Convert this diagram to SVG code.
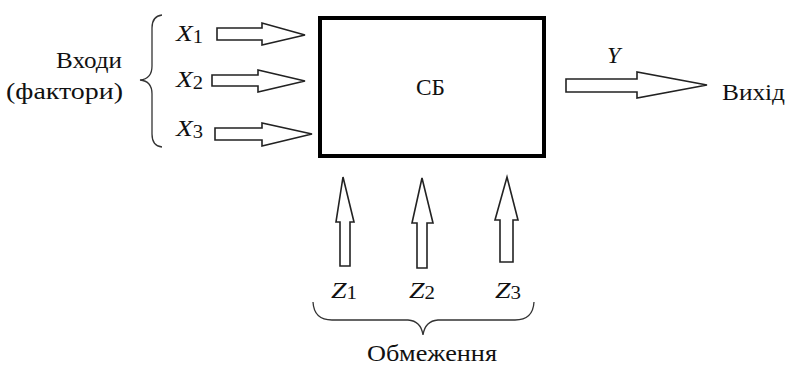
<svg xmlns="http://www.w3.org/2000/svg" width="790" height="365" viewBox="0 0 790 365">
<style>
text{font-family:"Liberation Serif","Times New Roman","DejaVu Serif",serif;font-size:24px;fill:#111}
.v{font-style:italic}
.s{font-size:18px;font-style:normal}
.arr{fill:#fff;stroke:#222;stroke-width:1.6;stroke-linejoin:miter}
.br{fill:none;stroke:#333;stroke-width:1.3}
</style>
<rect width="790" height="365" fill="#fff"/>
<g id="sb">
<rect x="320" y="18" width="224" height="138" fill="#fff" stroke="#000" stroke-width="4"/>
<text x="416" y="95" textLength="29" lengthAdjust="spacingAndGlyphs">СБ</text>
</g>
<g id="inputs">
<text x="56" y="68" textLength="66" lengthAdjust="spacingAndGlyphs">Входи</text>
<text x="6" y="99" textLength="117" lengthAdjust="spacingAndGlyphs">(фактори)</text>
<path class="br" d="M162,15 Q152,16 152,28 L152,66 Q152,79 140,80 Q152,81 152,94 L152,134 Q152,146 162,147"/>
<text class="v" x="176" y="41" textLength="27" lengthAdjust="spacingAndGlyphs">X<tspan class="s" dy="2">1</tspan></text>
<text class="v" x="176" y="87" textLength="27" lengthAdjust="spacingAndGlyphs">X<tspan class="s" dy="2">2</tspan></text>
<text class="v" x="176" y="136" textLength="27" lengthAdjust="spacingAndGlyphs">X<tspan class="s" dy="2">3</tspan></text>
</g>
<g id="output">
<text class="v" x="607" y="63">Y</text>
<text x="722" y="100" textLength="63" lengthAdjust="spacingAndGlyphs">Вихід</text>
</g>
<g id="limits">
<text class="v" x="331" y="298" textLength="26" lengthAdjust="spacingAndGlyphs">Z<tspan class="s" dy="1">1</tspan></text>
<text class="v" x="409" y="298" textLength="26" lengthAdjust="spacingAndGlyphs">Z<tspan class="s" dy="1">2</tspan></text>
<text class="v" x="495" y="298" textLength="26" lengthAdjust="spacingAndGlyphs">Z<tspan class="s" dy="1">3</tspan></text>
<path class="br" d="M313,302 Q314,320 332,320 L408,320 Q421,321 423,335 Q425,321 438,320 L515,320 Q533,320 534,302"/>
<text x="367" y="361" textLength="130" lengthAdjust="spacingAndGlyphs">Обмеження</text>
</g>
<g id="connectors">
<polygon class="arr" points="217,28 262,28 262,23 305,35 262,45 262,40 217,40"/>
<polygon class="arr" points="212,75 258,75 258,70 305,81 258,92 258,86 212,86"/>
<polygon class="arr" points="215,128 262,128 262,123 312,134 262,146 262,140 215,140"/>
<polygon class="arr" points="566,79 637,79 637,72 707,85 637,98 637,92 566,92"/>
<polygon class="arr" points="340,266 340,222 336,222 343,177 354,222 350,222 350,266"/>
<polygon class="arr" points="417,268 417,223 412,223 422,178 433,223 427,223 427,268"/>
<polygon class="arr" points="500,262 500,220 495,220 507,177 518,220 513,220 513,262"/>
</g>
</svg>
